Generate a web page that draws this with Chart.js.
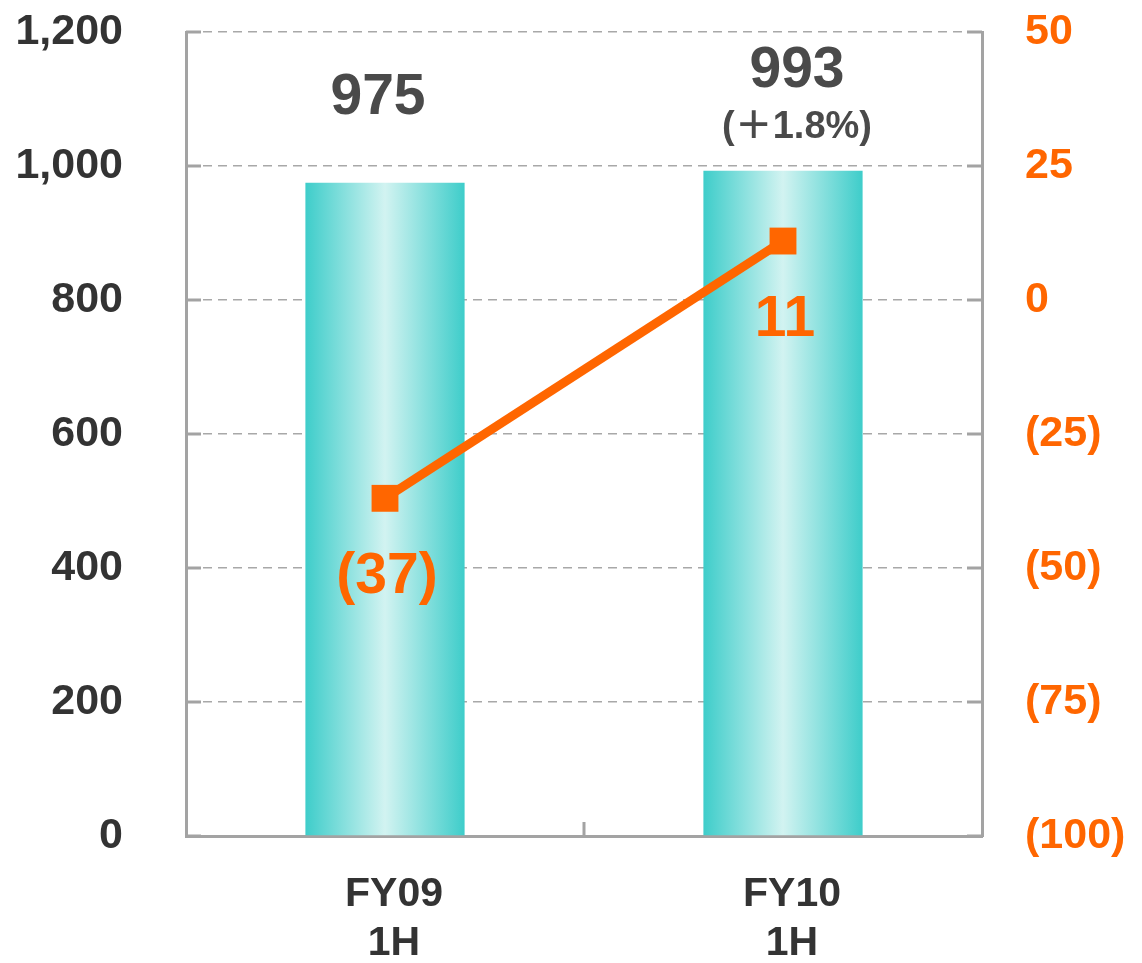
<!DOCTYPE html>
<html>
<head>
<meta charset="utf-8">
<script src="https://cdn.jsdelivr.net/npm/chart.js@4.4.0/dist/chart.umd.min.js"></script>
<style>
  html, body { margin: 0; padding: 0; background: #fff; }
  #wrap { width: 1142px; height: 963px; position: relative; }
</style>
</head>
<body>
<div id="wrap"><canvas id="salesChart"></canvas></div>
<script>
// --- data ---
const categories = [['FY09', '1H'], ['FY10', '1H']];
const salesValues = [975, 993];
const profitValues = [-37, 11];
const growthLabels = ['', '＋1.8%'];

const leftTicks = { min: 0, max: 1200, step: 200 };
const rightTicks = { min: -100, max: 50, step: 25 };

const FONT = "'Liberation Sans', Arial, 'Noto Sans CJK JP', sans-serif";
const DARK = '#333333';
const LABEL_DARK = '#4a4a4a';
const ORANGE = '#ff6600';
const AXIS_GRAY = '#a3a3a3';
const BAR_PCT = 0.4;

const fmtParen = v => (v < 0 ? '(' + Math.abs(v) + ')' : String(v));

// horizontal gradient per bar, built from the category scale
function barGradient(ctx) {
  const chart = ctx.chart;
  const xs = chart.scales && chart.scales.x;
  if (!chart.chartArea || !xs || ctx.dataIndex === undefined) return '#5fd6d3';
  const cx = xs.getPixelForValue(ctx.dataIndex);
  const half = (xs.width / categories.length) * BAR_PCT / 2;
  if (!Number.isFinite(cx) || !Number.isFinite(half) || half <= 0) return '#5fd6d3';
  const g = chart.ctx.createLinearGradient(cx - half, 0, cx + half, 0);
  g.addColorStop(0, '#3ecdca');
  g.addColorStop(0.5, '#d2f3f1');
  g.addColorStop(1, '#3ecdca');
  return g;
}

// keep label overflow from shrinking the plot area
function noOverflow(scale) {
  scale.paddingTop = 0;
  scale.paddingBottom = 0;
  scale.paddingLeft = 0;
  scale.paddingRight = 0;
}

// short inward tick marks + the middle tick on the category axis
const innerTicks = {
  id: 'innerTicks',
  afterDraw(chart) {
    const { ctx, chartArea, scales } = chart;
    ctx.save();
    ctx.strokeStyle = AXIS_GRAY;
    ctx.lineWidth = 3;
    ctx.beginPath();
    scales.y.ticks.forEach(t => {
      const py = scales.y.getPixelForValue(t.value);
      ctx.moveTo(chartArea.left, py);
      ctx.lineTo(chartArea.left + 15, py);
    });
    scales.y1.ticks.forEach(t => {
      const py = scales.y1.getPixelForValue(t.value);
      ctx.moveTo(chartArea.right, py);
      ctx.lineTo(chartArea.right - 15, py);
    });
    const mid = (scales.x.getPixelForValue(0) + scales.x.getPixelForValue(1)) / 2;
    ctx.moveTo(mid, chartArea.bottom);
    ctx.lineTo(mid, chartArea.bottom - 14);
    ctx.stroke();
    ctx.restore();
  }
};

// value labels
const valueLabels = {
  id: 'valueLabels',
  afterDatasetsDraw(chart) {
    const { ctx } = chart;
    const bars = chart.getDatasetMeta(1).data;
    const points = chart.getDatasetMeta(0).data;
    ctx.save();
    ctx.textAlign = 'center';
    ctx.textBaseline = 'middle';
    bars.forEach((bar, i) => {
      const hasGrowth = growthLabels[i] !== '';
      ctx.fillStyle = LABEL_DARK;
      ctx.font = 'bold 57px ' + FONT;
      ctx.fillText(String(salesValues[i]), bar.x + (hasGrowth ? 14 : -7), bar.y - (hasGrowth ? 99 : 84));
      if (hasGrowth) {
        ctx.font = 'bold 38px ' + FONT;
        ctx.fillText('(' + growthLabels[i] + ')', bar.x + 14, bar.y - 43);
      }
    });
    points.forEach((pt, i) => {
      ctx.fillStyle = ORANGE;
      ctx.font = 'bold 57px ' + FONT;
      ctx.fillText(fmtParen(profitValues[i]), pt.x + 2, pt.y + 79);
    });
    ctx.restore();
  }
};

new Chart(document.getElementById('salesChart'), {
  type: 'bar',
  data: {
    labels: categories,
    datasets: [
      {
        type: 'line',
        label: 'Operating income',
        data: profitValues,
        yAxisID: 'y1',
        borderColor: ORANGE,
        backgroundColor: ORANGE,
        borderWidth: 9,
        pointStyle: 'rect',
        pointRadius: 19,
        pointHoverRadius: 19,
        pointBorderWidth: 0,
        order: 0
      },
      {
        type: 'bar',
        label: 'Net sales',
        data: salesValues,
        yAxisID: 'y',
        backgroundColor: barGradient,
        borderWidth: 0,
        categoryPercentage: 1,
        barPercentage: BAR_PCT,
        order: 1
      }
    ]
  },
  options: {
    responsive: true,
    maintainAspectRatio: false,
    animation: false,
    layout: { padding: { top: 32, left: 0, right: 0, bottom: 0 } },
    plugins: {
      legend: { display: false },
      tooltip: { enabled: false }
    },
    scales: {
      x: {
        grid: { display: false, drawTicks: false },
        border: { display: true, color: AXIS_GRAY, width: 3 },
        ticks: {
          color: DARK,
          font: { family: FONT, size: 41, weight: 'bold', lineHeight: 1.2 },
          padding: 34,
          labelOffset: 9
        },
        afterFit(scale) { scale.height = 127; noOverflow(scale); }
      },
      y: {
        position: 'left',
        min: leftTicks.min,
        max: leftTicks.max,
        grid: {
          drawTicks: false,
          lineWidth: 1.5,
          color: c => (c.tick && c.tick.value === 0 ? 'rgba(0,0,0,0)' : '#a8a8a8')
        },
        border: { display: true, color: AXIS_GRAY, width: 3, dash: [9, 6] },
        ticks: {
          stepSize: leftTicks.step,
          color: DARK,
          font: { family: FONT, size: 43, weight: 'bold' },
          padding: 63,
          callback: v => v.toLocaleString('en-US')
        },
        afterFit(scale) { scale.width = 186; noOverflow(scale); }
      },
      y1: {
        position: 'right',
        min: rightTicks.min,
        max: rightTicks.max,
        grid: { drawOnChartArea: false, drawTicks: false },
        border: { display: true, color: AXIS_GRAY, width: 3 },
        ticks: {
          stepSize: rightTicks.step,
          color: ORANGE,
          font: { family: FONT, size: 43, weight: 'bold' },
          padding: 43,
          callback: fmtParen
        },
        afterFit(scale) { scale.width = 160; noOverflow(scale); }
      }
    }
  },
  plugins: [innerTicks, valueLabels]
});
</script>
</body>
</html>
